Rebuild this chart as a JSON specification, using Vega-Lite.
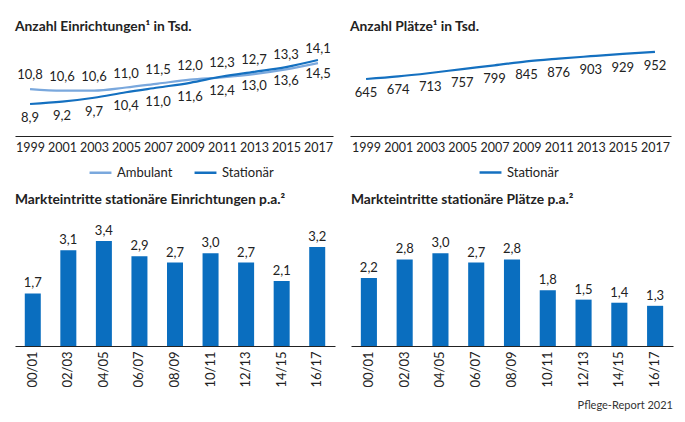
{
  "$schema": "https://vega.github.io/schema/vega-lite/v6.json",
  "background": "white",
  "padding": {"left": 15, "top": 20, "right": 10, "bottom": 4},
  "config": {
    "font": "Lato",
    "view": {"stroke": null},
    "locale": {"number": {"decimal": ",", "thousands": ".", "grouping": [3], "currency": ["", " €"]}},
    "title": {"anchor": "start", "fontSize": 13.8, "fontWeight": "bold", "color": "#222222", "offset": 7},
    "axis": {"labelFont": "Lato", "labelFontSize": 12.5, "labelColor": "#222222", "domainColor": "#222222", "domainWidth": 1.2, "ticks": false, "grid": false, "title": null, "labelOverlap": false},
    "legend": {"labelFont": "Lato", "labelFontSize": 13, "labelColor": "#222222", "symbolType": "stroke", "symbolSize": 480, "symbolStrokeWidth": 2.5, "columnPadding": 16}
  },
  "title": {"text": "Pflege-Report 2021", "orient": "bottom", "anchor": "end", "fontSize": 11, "fontWeight": "normal", "color": "#333333", "offset": 13},
  "resolve": {"scale": {"color": "independent"}, "legend": {"color": "independent"}},
  "datasets": {
    "einr": [
      {"year": "1999", "series": "Ambulant", "value": 10.8},
      {"year": "2001", "series": "Ambulant", "value": 10.6},
      {"year": "2003", "series": "Ambulant", "value": 10.6},
      {"year": "2005", "series": "Ambulant", "value": 11.0},
      {"year": "2007", "series": "Ambulant", "value": 11.5},
      {"year": "2009", "series": "Ambulant", "value": 12.0},
      {"year": "2011", "series": "Ambulant", "value": 12.3},
      {"year": "2013", "series": "Ambulant", "value": 12.7},
      {"year": "2015", "series": "Ambulant", "value": 13.3},
      {"year": "2017", "series": "Ambulant", "value": 14.1},
      {"year": "1999", "series": "Stationär", "value": 8.9},
      {"year": "2001", "series": "Stationär", "value": 9.2},
      {"year": "2003", "series": "Stationär", "value": 9.7},
      {"year": "2005", "series": "Stationär", "value": 10.4},
      {"year": "2007", "series": "Stationär", "value": 11.0},
      {"year": "2009", "series": "Stationär", "value": 11.6},
      {"year": "2011", "series": "Stationär", "value": 12.4},
      {"year": "2013", "series": "Stationär", "value": 13.0},
      {"year": "2015", "series": "Stationär", "value": 13.6},
      {"year": "2017", "series": "Stationär", "value": 14.5}
    ],
    "plaetze": [
      {"year": "1999", "kind": "Stationär", "value": 645},
      {"year": "2001", "kind": "Stationär", "value": 674},
      {"year": "2003", "kind": "Stationär", "value": 713},
      {"year": "2005", "kind": "Stationär", "value": 757},
      {"year": "2007", "kind": "Stationär", "value": 799},
      {"year": "2009", "kind": "Stationär", "value": 845},
      {"year": "2011", "kind": "Stationär", "value": 876},
      {"year": "2013", "kind": "Stationär", "value": 903},
      {"year": "2015", "kind": "Stationär", "value": 929},
      {"year": "2017", "kind": "Stationär", "value": 952}
    ],
    "marktE": [
      {"period": "00/01", "value": 1.7},
      {"period": "02/03", "value": 3.1},
      {"period": "04/05", "value": 3.4},
      {"period": "06/07", "value": 2.9},
      {"period": "08/09", "value": 2.7},
      {"period": "10/11", "value": 3.0},
      {"period": "12/13", "value": 2.7},
      {"period": "14/15", "value": 2.1},
      {"period": "16/17", "value": 3.2}
    ],
    "marktP": [
      {"period": "00/01", "value": 2.2},
      {"period": "02/03", "value": 2.8},
      {"period": "04/05", "value": 3.0},
      {"period": "06/07", "value": 2.7},
      {"period": "08/09", "value": 2.8},
      {"period": "10/11", "value": 1.8},
      {"period": "12/13", "value": 1.5},
      {"period": "14/15", "value": 1.4},
      {"period": "16/17", "value": 1.3}
    ]
  },
  "spacing": 13,
  "vconcat": [
    {
      "spacing": 17,
      "resolve": {"scale": {"color": "independent"}, "legend": {"color": "independent"}},
      "hconcat": [
        {
          "width": 318, "height": 95,
          "title": "Anzahl Einrichtungen¹ in Tsd.",
          "data": {"name": "einr"},
          "encoding": {
            "x": {"field": "year", "type": "ordinal", "scale": {"type": "point", "padding": 0.47}, "axis": {"labelAngle": 0, "labelPadding": 5}},
            "y": {"field": "value", "type": "quantitative", "scale": {"domain": [4.83, 16.92], "nice": false, "zero": false}, "axis": null}
          },
          "layer": [
            {
              "mark": {"type": "line", "interpolate": "monotone", "strokeWidth": 2.2},
              "encoding": {
                "color": {"field": "series", "type": "nominal", "scale": {"domain": ["Ambulant", "Stationär"], "range": ["#7aa8dd", "#1470c0"]}, "legend": {"title": null, "orient": "none", "direction": "horizontal", "legendX": 73, "legendY": 119}}
              }
            },
            {
              "transform": [{"filter": "datum.series === 'Ambulant'"}],
              "mark": {"type": "text", "fontSize": 13, "color": "#222222", "dy": -14},
              "encoding": {"text": {"field": "value", "type": "quantitative", "format": ".1f"}}
            },
            {
              "transform": [{"filter": "datum.series === 'Stationär'"}],
              "mark": {"type": "text", "fontSize": 13, "color": "#222222", "dy": 14},
              "encoding": {"text": {"field": "value", "type": "quantitative", "format": ".1f"}}
            }
          ]
        },
        {
          "width": 321, "height": 95,
          "title": "Anzahl Plätze¹ in Tsd.",
          "data": {"name": "plaetze"},
          "encoding": {
            "x": {"field": "year", "type": "ordinal", "scale": {"type": "point", "padding": 0.5}, "axis": {"labelAngle": 0, "labelPadding": 5}},
            "y": {"field": "value", "type": "quantitative", "scale": {"domain": [0, 1075], "nice": false}, "axis": null}
          },
          "layer": [
            {
              "mark": {"type": "line", "interpolate": "monotone", "strokeWidth": 2.2},
              "encoding": {
                "color": {"field": "kind", "type": "nominal", "scale": {"domain": ["Stationär"], "range": ["#1470c0"]}, "legend": {"title": null, "orient": "none", "direction": "horizontal", "legendX": 128, "legendY": 119}}
              }
            },
            {
              "mark": {"type": "text", "fontSize": 13, "color": "#222222", "dy": 14},
              "encoding": {"text": {"field": "value", "type": "quantitative", "format": "d"}}
            }
          ]
        }
      ]
    },
    {
      "spacing": 16,
      "hconcat": [
        {
          "width": 320, "height": 132,
          "title": "Markteintritte stationäre Einrichtungen p.a.²",
          "data": {"name": "marktE"},
          "encoding": {
            "x": {"field": "period", "type": "ordinal", "sort": null, "scale": {"paddingInner": 0.55, "paddingOuter": 0.275}, "axis": {"labelAngle": -90, "labelFontSize": 13, "labelPadding": 5}},
            "y": {"field": "value", "type": "quantitative", "scale": {"domain": [0, 4.27], "nice": false}, "axis": null}
          },
          "layer": [
            {"mark": {"type": "bar", "color": "#0a6ebf"}},
            {
              "mark": {"type": "text", "fontSize": 13, "color": "#222222", "baseline": "bottom", "dy": -3},
              "encoding": {"text": {"field": "value", "type": "quantitative", "format": ".1f"}}
            }
          ]
        },
        {
          "width": 322, "height": 132,
          "title": "Markteintritte stationäre Plätze p.a.²",
          "data": {"name": "marktP"},
          "encoding": {
            "x": {"field": "period", "type": "ordinal", "sort": null, "scale": {"paddingInner": 0.55, "paddingOuter": 0.275}, "axis": {"labelAngle": -90, "labelFontSize": 13, "labelPadding": 5}},
            "y": {"field": "value", "type": "quantitative", "scale": {"domain": [0, 4.27], "nice": false}, "axis": null}
          },
          "layer": [
            {"mark": {"type": "bar", "color": "#0a6ebf"}},
            {
              "mark": {"type": "text", "fontSize": 13, "color": "#222222", "baseline": "bottom", "dy": -3},
              "encoding": {"text": {"field": "value", "type": "quantitative", "format": ".1f"}}
            }
          ]
        }
      ]
    }
  ]
}
